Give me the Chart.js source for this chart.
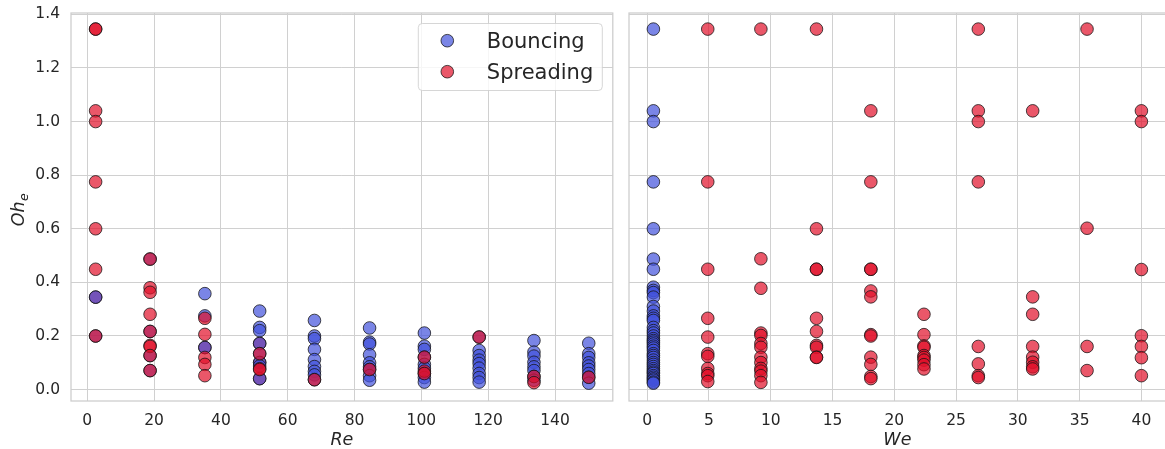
<!DOCTYPE html>
<html>
<head>
<meta charset="utf-8">
<script src="https://cdn.jsdelivr.net/npm/chart.js@4.4.0/dist/chart.umd.min.js"></script>
<style>
  html, body { margin: 0; padding: 0; background: #fff; overflow: hidden; width: 1165px; height: 449px; }
  canvas { position: absolute; top: 0; }
  #left { left: 0; }
  #right { left: 620px; }
</style>
</head>
<body>
<canvas id="left" width="620" height="449"></canvas>
<canvas id="right" width="553" height="449"></canvas>
<script>
// ---- Series names and axis ticks ----
const seriesNames = ['Bouncing', 'Spreading'];
const yTickValues = [0, 0.2, 0.4, 0.6, 0.8, 1.0, 1.2, 1.4];
const yTickLabels = ['0.0', '0.2', '0.4', '0.6', '0.8', '1.0', '1.2', '1.4'];
const reTickValues = [0, 20, 40, 60, 80, 100, 120, 140];
const weTickValues = [0, 5, 10, 15, 20, 25, 30, 35, 40];

// ---- Re vs Oh_e : [Re, Oh_e] ----
const reBouncing = [
  [2.5, 0.345], [2.5, 0.200],
  [18.8, 0.487], [18.8, 0.217], [18.8, 0.127], [18.8, 0.071],
  [35.2, 0.358], [35.2, 0.275], [35.2, 0.157],
  [51.6, 0.293], [51.6, 0.232], [51.6, 0.220], [51.6, 0.172], [51.6, 0.134], [51.6, 0.101], [51.6, 0.088], [51.6, 0.041],
  [68.0, 0.258], [68.0, 0.200], [68.0, 0.190], [68.0, 0.150], [68.0, 0.112], [68.0, 0.086], [68.0, 0.068], [68.0, 0.055], [68.0, 0.037],
  [84.5, 0.230], [84.5, 0.177], [84.5, 0.170], [84.5, 0.130], [84.5, 0.100], [84.5, 0.085], [84.5, 0.075], [84.5, 0.052], [84.5, 0.035],
  [100.9, 0.211], [100.9, 0.162], [100.9, 0.150], [100.9, 0.121], [100.9, 0.094], [100.9, 0.080], [100.9, 0.060], [100.9, 0.045], [100.9, 0.028],
  [117.3, 0.196], [117.3, 0.146], [117.3, 0.127], [117.3, 0.110], [117.3, 0.097], [117.3, 0.080], [117.3, 0.060], [117.3, 0.045], [117.3, 0.028],
  [133.7, 0.183], [133.7, 0.140], [133.7, 0.125], [133.7, 0.102], [133.7, 0.085], [133.7, 0.071], [133.7, 0.049], [133.7, 0.035],
  [150.1, 0.173], [150.1, 0.134], [150.1, 0.120], [150.1, 0.100], [150.1, 0.088], [150.1, 0.075], [150.1, 0.060], [150.1, 0.046], [150.1, 0.024]
];
const reSpreading = [
  [2.5, 1.345], [2.5, 1.345], [2.5, 1.040], [2.5, 1.000], [2.5, 0.775], [2.5, 0.600], [2.5, 0.449], [2.5, 0.200],
  [18.8, 0.487], [18.8, 0.380], [18.8, 0.363], [18.8, 0.281], [18.8, 0.217], [18.8, 0.165], [18.8, 0.161], [18.8, 0.127], [18.8, 0.071],
  [35.2, 0.266], [35.2, 0.206], [35.2, 0.120], [35.2, 0.094], [35.2, 0.052],
  [51.6, 0.134], [51.6, 0.078], [51.6, 0.075],
  [68.0, 0.037],
  [84.5, 0.075],
  [100.9, 0.121], [100.9, 0.069], [100.9, 0.060],
  [117.3, 0.196],
  [133.7, 0.049], [133.7, 0.026],
  [150.1, 0.046]
];
// spreading cases plotted before the bouncing ones (sit underneath them)
const reSpreadingBelow = [
  [2.5, 0.345], [35.2, 0.157], [51.6, 0.172], [51.6, 0.101], [51.6, 0.041]
];

// ---- We vs Oh_e : [We, Oh_e] ----
const weBouncing = [
  [0.5, 1.345], [0.5, 1.040], [0.5, 1.000], [0.5, 0.775], [0.5, 0.600], [0.5, 0.487], [0.5, 0.449],
  [0.5, 0.382], [0.5, 0.370], [0.5, 0.362], [0.5, 0.345], [0.5, 0.310], [0.5, 0.293], [0.5, 0.275],
  [0.5, 0.266], [0.5, 0.258], [0.5, 0.232], [0.5, 0.220], [0.5, 0.211], [0.5, 0.200], [0.5, 0.190],
  [0.5, 0.183], [0.5, 0.177], [0.5, 0.170], [0.5, 0.162], [0.5, 0.155], [0.5, 0.146], [0.5, 0.134],
  [0.5, 0.127], [0.5, 0.120], [0.5, 0.110], [0.5, 0.101], [0.5, 0.094], [0.5, 0.086], [0.5, 0.078],
  [0.5, 0.071], [0.5, 0.065], [0.5, 0.060], [0.5, 0.052], [0.5, 0.046], [0.5, 0.040], [0.5, 0.035],
  [0.5, 0.028], [0.5, 0.024]
];
const weSpreading = [
  [4.9, 1.345], [4.9, 0.775], [4.9, 0.449], [4.9, 0.266], [4.9, 0.196], [4.9, 0.134], [4.9, 0.124], [4.9, 0.079], [4.9, 0.060], [4.9, 0.052], [4.9, 0.030],
  [9.2, 1.345], [9.2, 0.488], [9.2, 0.378], [9.2, 0.211], [9.2, 0.202], [9.2, 0.172], [9.2, 0.158], [9.2, 0.121], [9.2, 0.101], [9.2, 0.079], [9.2, 0.069], [9.2, 0.052], [9.2, 0.027],
  [13.7, 1.345], [13.7, 0.600], [13.7, 0.449], [13.7, 0.449], [13.7, 0.266], [13.7, 0.217], [13.7, 0.165], [13.7, 0.158], [13.7, 0.121], [13.7, 0.120],
  [18.1, 1.040], [18.1, 0.775], [18.1, 0.449], [18.1, 0.449], [18.1, 0.368], [18.1, 0.346], [18.1, 0.205], [18.1, 0.200], [18.1, 0.121], [18.1, 0.094], [18.1, 0.049], [18.1, 0.041],
  [22.4, 0.281], [22.4, 0.205], [22.4, 0.163], [22.4, 0.158], [22.4, 0.127], [22.4, 0.120], [22.4, 0.110], [22.4, 0.093], [22.4, 0.077],
  [26.8, 1.345], [26.8, 1.040], [26.8, 1.000], [26.8, 0.775], [26.8, 0.161], [26.8, 0.096], [26.8, 0.052], [26.8, 0.045],
  [31.2, 1.040], [31.2, 0.346], [31.2, 0.281], [31.2, 0.161], [31.2, 0.121], [31.2, 0.102], [31.2, 0.085], [31.2, 0.077],
  [35.6, 1.345], [35.6, 0.602], [35.6, 0.161], [35.6, 0.071],
  [40.0, 1.040], [40.0, 1.000], [40.0, 0.448], [40.0, 0.201], [40.0, 0.161], [40.0, 0.119], [40.0, 0.052]
];

// ---- Styling ----
const TEXT = '#262626';
const GRID = '#d0d0d0';
const SPINE = '#cccccc';
const BLUE = 'rgba(66, 81, 219, 0.7)';
const RED = 'rgba(225, 15, 41, 0.7)';
const EDGE = 'rgba(20, 20, 20, 0.85)';
const seriesColors = [BLUE, RED];
const FONT = "'DejaVu Sans', sans-serif";
Chart.defaults.font.family = FONT;
Chart.defaults.color = TEXT;

const toPoints = arr => arr.map(([x, y]) => ({ x, y }));

function pointSet(label, arr, color) {
  return {
    label, data: toPoints(arr),
    backgroundColor: color, borderColor: EDGE,
    pointRadius: 6.3, pointBorderWidth: 0.9, pointHoverRadius: 6.3
  };
}

function xScale(min, max, ticks, title) {
  return {
    type: 'linear', min, max,
    afterBuildTicks: s => { s.ticks = ticks.map(v => ({ value: v })); },
    afterFit: s => { s.height = 48; s.paddingLeft = 0; s.paddingRight = 0; },
    grid: { color: GRID, lineWidth: 1, drawTicks: false },
    border: { display: false },
    ticks: { font: { size: 15.5 }, color: TEXT, padding: 11, maxRotation: 0, autoSkip: false, callback: v => String(v) },
    title: { display: true, text: title, font: { size: 17.5, style: 'italic', lineHeight: 1.0 }, color: TEXT, padding: { top: 0, bottom: 0 } }
  };
}

function yScale(showLabels, width) {
  return {
    type: 'linear', min: -0.0425, max: 1.405,
    afterBuildTicks: s => { s.ticks = yTickValues.map(v => ({ value: v })); },
    afterFit: s => { s.width = width; s.paddingTop = 0; s.paddingBottom = 0; },
    grid: { color: GRID, lineWidth: 1, drawTicks: false },
    border: { display: false },
    ticks: { display: showLabels, font: { size: 15.5 }, color: TEXT, padding: 11, autoSkip: false, callback: (v, i) => yTickLabels[i] }
  };
}

// axes frame on all four sides
const framePlugin = {
  id: 'frame',
  afterDatasetsDraw(chart) {
    const { ctx, chartArea: a } = chart;
    ctx.save();
    ctx.strokeStyle = SPINE;
    ctx.lineWidth = 1.25;
    ctx.strokeRect(a.left, a.top, a.right - a.left, a.bottom - a.top);
    ctx.restore();
  }
};

// rotated y-axis title with subscript
const yTitlePlugin = {
  id: 'yTitle',
  afterDraw(chart) {
    const { ctx, chartArea: a } = chart;
    const big = `italic 17.5px ${FONT}`, small = `italic 12.5px ${FONT}`;
    ctx.save();
    ctx.translate(24, (a.top + a.bottom) / 2 + 3);
    ctx.rotate(-Math.PI / 2);
    ctx.fillStyle = TEXT;
    ctx.textBaseline = 'alphabetic';
    ctx.font = big; const w1 = ctx.measureText('Oh').width;
    ctx.font = small; const w2 = ctx.measureText('e').width;
    const x0 = -(w1 + w2) / 2;
    ctx.font = big; ctx.fillText('Oh', x0, 0);
    ctx.font = small; ctx.fillText('e', x0 + w1 + 0.5, 3.5);
    ctx.restore();
  }
};

// legend box in the upper right of the Re panel
const legendPlugin = {
  id: 'boxLegend',
  afterDraw(chart) {
    const { ctx, chartArea: a } = chart;
    const w = 184, h = 67;
    const left = a.right - 10.5 - w, top = a.top + 10.5;
    ctx.save();
    ctx.beginPath();
    ctx.roundRect(left, top, w, h, 4);
    ctx.fillStyle = 'rgba(255,255,255,0.8)';
    ctx.fill();
    ctx.strokeStyle = 'rgba(204,204,204,0.8)';
    ctx.lineWidth = 1;
    ctx.stroke();
    ctx.font = `21px ${FONT}`;
    ctx.textBaseline = 'alphabetic';
    seriesNames.forEach((name, i) => {
      const cy = top + 17.2 + i * 31;
      ctx.beginPath();
      ctx.arc(left + 29, cy, 6.3, 0, Math.PI * 2);
      ctx.fillStyle = seriesColors[i];
      ctx.fill();
      ctx.strokeStyle = EDGE;
      ctx.lineWidth = 0.9;
      ctx.stroke();
      ctx.fillStyle = TEXT;
      ctx.fillText(name, left + 68.5, cy + 7.6);
    });
    ctx.restore();
  }
};

const baseOptions = {
  responsive: false,
  devicePixelRatio: 1,
  animation: false,
  events: [],
  plugins: { legend: { display: false }, tooltip: { enabled: false } }
};

new Chart(document.getElementById('left'), {
  type: 'scatter',
  data: {
    datasets: [
      pointSet(seriesNames[1], reSpreading, RED),
      pointSet(seriesNames[0], reBouncing, BLUE),
      pointSet(seriesNames[1], reSpreadingBelow, RED)
    ]
  },
  options: {
    ...baseOptions,
    layout: { padding: { top: 13, right: 6, bottom: 0, left: 0 } },
    scales: {
      x: xScale(-4.87, 157.3, reTickValues, 'Re'),
      y: yScale(true, 71)
    }
  },
  plugins: [framePlugin, yTitlePlugin, legendPlugin]
});

new Chart(document.getElementById('right'), {
  type: 'scatter',
  data: {
    datasets: [
      pointSet(seriesNames[1], weSpreading, RED),
      pointSet(seriesNames[0], weBouncing, BLUE)
    ]
  },
  options: {
    ...baseOptions,
    layout: { padding: { top: 13, right: 0, bottom: 0, left: 0 } },
    scales: {
      x: xScale(-1.475, 41.975, weTickValues, 'We'),
      y: yScale(false, 9)
    }
  },
  plugins: [framePlugin]
});
</script>
</body>
</html>
